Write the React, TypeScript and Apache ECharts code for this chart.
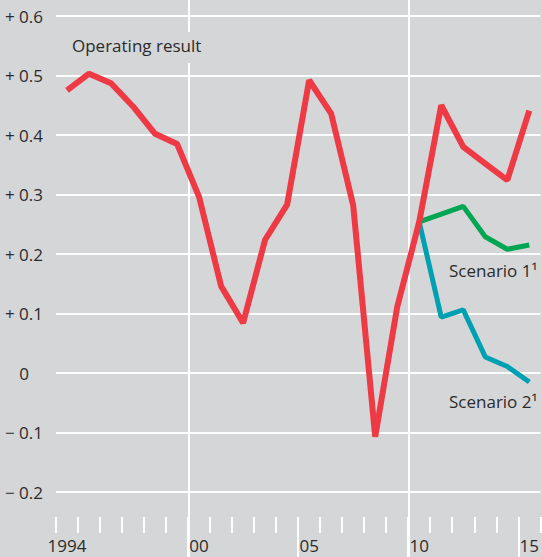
import React, { useEffect, useRef } from 'react';
import * as echarts from 'echarts';

const years = [
  '1994', '1995', '1996', '1997', '1998', '1999', '2000', '2001', '2002', '2003', '2004',
  '2005', '2006', '2007', '2008', '2009', '2010', '2011', '2012', '2013', '2014', '2015',
];
const operatingResult = [
  0.475, 0.503, 0.487, 0.448, 0.402, 0.385, 0.296, 0.146, 0.084, 0.224, 0.283,
  0.492, 0.436, 0.282, -0.107, 0.111, 0.254, 0.45, 0.38, 0.352, 0.324, 0.441,
];
const scenario1 = [
  null, null, null, null, null, null, null, null, null, null, null,
  null, null, null, null, null, 0.254, 0.267, 0.28, 0.229, 0.208, 0.215,
];
const scenario2 = [
  null, null, null, null, null, null, null, null, null, null, null,
  null, null, null, null, null, 0.254, 0.094, 0.106, 0.027, 0.011, -0.015,
];
const xLabelYears = ['1994', '2000', '2005', '2010', '2015'];
const xLongTickYears = [2000, 2005, 2010, 2015];
const xGridLineYears = ['2000', '2010'];

const BG = '#d5d6d8';
const TEXT = '#2b2b2b';
const FONT = '"Open Sans", sans-serif';
const FS = 17;

export default function App() {
  const ref = useRef<HTMLDivElement>(null);
  useEffect(() => {
    const chart = echarts.init(ref.current!, null, { renderer: 'svg' });
    const white = { color: '#ffffff', width: 2 };
    chart.setOption({
      animation: false,
      backgroundColor: BG,
      grid: [
        { left: 56, right: 1, top: 16, bottom: 65 },
        { left: 56, right: 1, top: 0, bottom: 0 },
      ],
      xAxis: [
        {
          gridIndex: 0,
          type: 'category',
          data: years,
          boundaryGap: true,
          position: 'bottom',
          offset: 25,
          axisLine: { show: false, onZero: false },
          axisTick: { show: true, interval: 0, length: 16, lineStyle: white },
          axisLabel: {
            interval: (_i: number, v: string) => xLabelYears.includes(v),
            formatter: (v: string) => (v === '1994' ? v : v.slice(2)),
            margin: 20,
            color: TEXT,
            fontSize: FS,
            fontFamily: FONT,
          },
          splitLine: { show: false },
        },
        {
          gridIndex: 0,
          type: 'value',
          min: 1994,
          max: 2016,
          position: 'bottom',
          offset: 25,
          axisLine: { show: false, onZero: false },
          axisTick: { show: true, customValues: xLongTickYears, length: 40, lineStyle: white },
          axisLabel: { show: false },
          splitLine: { show: false },
        },
        {
          gridIndex: 1,
          type: 'category',
          data: years,
          boundaryGap: true,
          axisLine: { show: false, onZero: false },
          axisTick: { show: false },
          axisLabel: { show: false },
          splitLine: {
            show: true,
            interval: (_i: number, v: string) => xGridLineYears.includes(v),
            showMinLine: true,
            showMaxLine: false,
            lineStyle: white,
          },
        },
      ],
      yAxis: [
        {
          gridIndex: 0,
          type: 'value',
          min: -0.2,
          max: 0.6,
          interval: 0.1,
          axisLine: { show: false },
          axisTick: { show: false },
          axisLabel: {
            margin: 13,
            color: TEXT,
            fontSize: FS,
            fontFamily: FONT,
            formatter: (v: number) => {
              if (Math.abs(v) < 1e-9) return '{z|0}';
              return (v > 0 ? '+ ' : '\u2212 ') + Math.abs(v).toFixed(1);
            },
            rich: {
              z: { padding: [0, 14, 0, 0], color: TEXT, fontSize: FS, fontFamily: FONT },
            },
          },
          splitLine: { show: true, lineStyle: white },
        },
        { gridIndex: 1, type: 'value', min: 0, max: 1, show: false },
      ],
      series: [
        {
          name: 'Scenario 2',
          type: 'line',
          xAxisIndex: 0,
          yAxisIndex: 0,
          data: scenario2,
          symbol: 'none',
          color: '#00a0b3',
          lineStyle: { width: 5, color: '#00a0b3' },
          z: 3,
        },
        {
          name: 'Scenario 1',
          type: 'line',
          xAxisIndex: 0,
          yAxisIndex: 0,
          data: scenario1,
          symbol: 'none',
          color: '#00a651',
          lineStyle: { width: 5, color: '#00a651' },
          z: 4,
        },
        {
          name: 'Operating result',
          type: 'line',
          xAxisIndex: 0,
          yAxisIndex: 0,
          data: operatingResult,
          symbol: 'none',
          color: '#ee3a44',
          lineStyle: { width: 6, color: '#ee3a44' },
          z: 5,
        },
      ],
      graphic: [
        {
          type: 'text',
          left: 68,
          top: 32,
          z: 100,
          style: {
            text: 'Operating result',
            fill: TEXT,
            fontSize: FS,
            fontFamily: FONT,
            lineHeight: 20,
            backgroundColor: BG,
            padding: [3, 4, 8, 4],
          },
        },
        {
          type: 'text',
          left: 449,
          top: 260,
          z: 100,
          style: { text: 'Scenario 1\u00b9', fill: TEXT, fontSize: FS, fontFamily: FONT, lineHeight: 20 },
        },
        {
          type: 'text',
          left: 449,
          top: 391,
          z: 100,
          style: { text: 'Scenario 2\u00b9', fill: TEXT, fontSize: FS, fontFamily: FONT, lineHeight: 20 },
        },
      ],
    });
    return () => chart.dispose();
  }, []);
  return <div ref={ref} style={{ position: 'fixed', left: 0, top: 0, width: 542, height: 557 }} />;
}
